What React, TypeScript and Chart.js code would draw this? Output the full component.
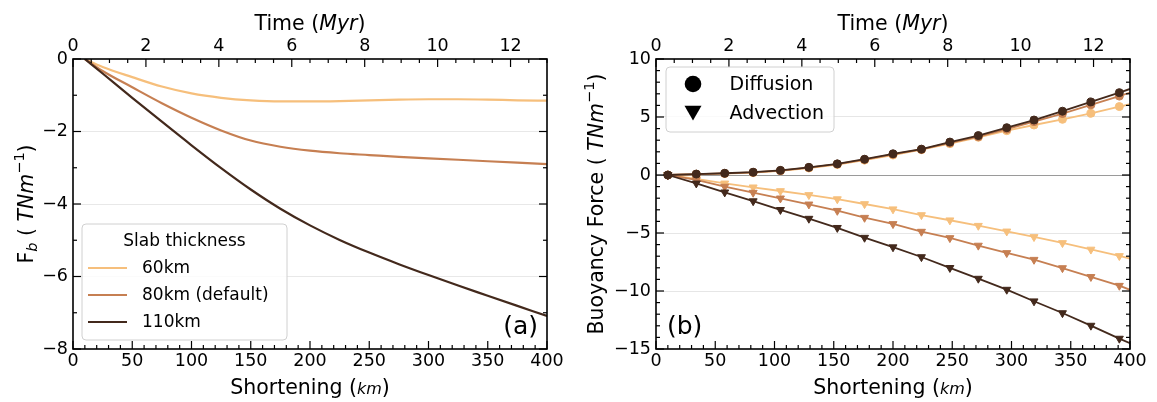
import React, { useEffect, useRef } from 'react';
import { Chart, registerables } from 'chart.js';
Chart.register(...registerables);

// ---------- data ----------
const slabLabels = ['60km', '80km (default)', '110km'];
const slabColors = ['#f6bf7c', '#c67f52', '#43291c'];

// panel (a): slab pull F_b vs shortening
const shorteningA = [10, 25, 50, 75, 100, 125, 150, 175, 200, 225, 250, 275, 300, 325, 350, 375, 400];
const fb60 = [0, -0.22, -0.5, -0.76, -0.95, -1.07, -1.14, -1.17, -1.17, -1.16, -1.14, -1.12, -1.11, -1.11, -1.12, -1.14, -1.15];
const fb80 = [0, -0.33, -0.78, -1.22, -1.62, -1.97, -2.25, -2.42, -2.53, -2.6, -2.65, -2.7, -2.74, -2.78, -2.82, -2.86, -2.9];
const fb110 = [0, -0.4, -1.07, -1.73, -2.38, -3.01, -3.6, -4.13, -4.59, -4.99, -5.34, -5.66, -5.96, -6.25, -6.53, -6.81, -7.09];

// panel (b): buoyancy force components vs shortening
const shorteningB = [10, 34, 58, 82, 105, 129, 153, 176, 200, 224, 248, 272, 296, 319, 343, 367, 391, 400];
const diff60 = [0, 0.06, 0.12, 0.2, 0.36, 0.6, 0.9, 1.28, 1.72, 2.18, 2.7, 3.25, 3.82, 4.31, 4.8, 5.32, 5.9, 6.1];
const diff80 = [0, 0.07, 0.14, 0.23, 0.37, 0.64, 0.94, 1.33, 1.78, 2.2, 2.76, 3.3, 3.95, 4.6, 5.3, 6.05, 6.8, 7.1];
const diff110 = [0, 0.08, 0.15, 0.24, 0.4, 0.66, 0.96, 1.36, 1.83, 2.23, 2.84, 3.4, 4.08, 4.74, 5.5, 6.3, 7.1, 7.42];
const adv60 = [0, -0.34, -0.72, -1.06, -1.38, -1.72, -2.08, -2.5, -2.95, -3.45, -3.9, -4.37, -4.86, -5.34, -5.86, -6.42, -6.98, -7.2];
const adv80 = [0, -0.43, -1.0, -1.52, -2.01, -2.53, -3.08, -3.68, -4.22, -4.88, -5.43, -6.08, -6.72, -7.3, -8.02, -8.78, -9.54, -9.9];
const adv110 = [0, -0.72, -1.49, -2.25, -3.0, -3.76, -4.55, -5.4, -6.22, -7.07, -8.0, -8.93, -9.88, -10.88, -11.9, -12.98, -14.1, -14.5];

const markerLabels = ['Diffusion', 'Advection'];

// axes
const shorteningRange = [0, 400];
const timeRange = [0, 13];
const fbRange = [-8, 0];
const buoyRange = [-15, 10];

// ---------- helpers ----------
const FONT = 'DejaVu Sans';
const tickFont = { family: FONT, size: 17.5 };
const minus = (v: any) => String(v).replace('-', '\u2212');

type Seg = { t: string; size: number; italic?: boolean; dy?: number };
function drawRich(ctx: CanvasRenderingContext2D, segs: Seg[], cx: number, cy: number, rot: number, base: number) {
  ctx.save();
  ctx.translate(cx, cy);
  if (rot) ctx.rotate(rot);
  const f = (s: Seg) => `${s.italic ? 'italic ' : ''}${s.size}px "${FONT}"`;
  let total = 0;
  const widths = segs.map((s) => {
    ctx.font = f(s);
    const w = ctx.measureText(s.t).width;
    total += w;
    return w;
  });
  let x = -total / 2;
  ctx.fillStyle = '#000';
  ctx.textBaseline = 'alphabetic';
  ctx.textAlign = 'left';
  segs.forEach((s, i) => {
    ctx.font = f(s);
    ctx.fillText(s.t, x, base + (s.dy || 0));
    x += widths[i];
  });
  ctx.restore();
}

function roundRect(ctx: CanvasRenderingContext2D, x: number, y: number, w: number, h: number, r: number) {
  ctx.beginPath();
  ctx.moveTo(x + r, y);
  ctx.lineTo(x + w - r, y);
  ctx.quadraticCurveTo(x + w, y, x + w, y + r);
  ctx.lineTo(x + w, y + h - r);
  ctx.quadraticCurveTo(x + w, y + h, x + w - r, y + h);
  ctx.lineTo(x + r, y + h);
  ctx.quadraticCurveTo(x, y + h, x, y + h - r);
  ctx.lineTo(x, y + r);
  ctx.quadraticCurveTo(x, y, x + r, y);
  ctx.closePath();
}

type FrameCfg = { xMinor: number; xMajor: number; tMinor: number; tMajor: number; yMinor: number; yMajor: number };
function makeFrame(cfg: FrameCfg) {
  return {
    id: 'frame',
    afterDatasetsDraw(chart: any) {
      const { ctx, chartArea: a, scales } = chart;
      ctx.save();
      ctx.strokeStyle = '#000';
      ctx.lineWidth = 1.2;
      const line = (x1: number, y1: number, x2: number, y2: number) => {
        ctx.beginPath();
        ctx.moveTo(x1, y1);
        ctx.lineTo(x2, y2);
        ctx.stroke();
      };
      const major = (v: number, s: number) => Math.abs(v / s - Math.round(v / s)) < 1e-6;
      const each = (sc: any, step: number, fn: (v: number) => void) => {
        const n = Math.round((sc.max - sc.min) / step);
        for (let i = 0; i <= n; i++) fn(sc.min + i * step);
      };
      each(scales.x, cfg.xMinor, (v) => {
        const p = scales.x.getPixelForValue(v);
        const L = major(v, cfg.xMajor) ? 8 : 4;
        line(p, a.bottom, p, a.bottom - L);
      });
      each(scales.x2, cfg.tMinor, (v) => {
        const p = scales.x2.getPixelForValue(v);
        if (p > a.right + 0.5) return;
        const L = major(v, cfg.tMajor) ? 8 : 4;
        line(p, a.top, p, a.top + L);
      });
      each(scales.y, cfg.yMinor, (v) => {
        const p = scales.y.getPixelForValue(v);
        const L = major(v, cfg.yMajor) ? 8 : 4;
        line(a.left, p, a.left + L, p);
        line(a.right, p, a.right - L, p);
      });
      ctx.lineWidth = 1.6;
      ctx.strokeRect(a.left, a.top, a.right - a.left, a.bottom - a.top);
      ctx.restore();
    },
  };
}

function makeOverlay(draw: (ctx: CanvasRenderingContext2D, chart: any) => void) {
  return {
    id: 'overlay',
    afterDraw(chart: any) {
      const ctx = chart.ctx;
      ctx.save();
      draw(ctx, chart);
      ctx.restore();
    },
  };
}

function baseScales(yRange: number[], yStep: number, yWidth: number, gridColor: (v: number) => string) {
  return {
    x: {
      type: 'linear',
      position: 'bottom',
      min: shorteningRange[0],
      max: shorteningRange[1],
      ticks: { stepSize: 50, font: tickFont, color: '#000', padding: 2, autoSkip: false, maxRotation: 0 },
      grid: { display: false, drawTicks: false },
      border: { display: false },
      afterFit: (s: any) => { s.height = 53; },
    },
    x2: {
      type: 'linear',
      position: 'top',
      min: timeRange[0],
      max: timeRange[1],
      ticks: { stepSize: 2, includeBounds: false, font: tickFont, color: '#000', padding: 2, autoSkip: false, maxRotation: 0 },
      grid: { display: false, drawTicks: false },
      border: { display: false },
      afterFit: (s: any) => { s.height = 59; },
    },
    y: {
      type: 'linear',
      min: yRange[0],
      max: yRange[1],
      ticks: { stepSize: yStep, font: tickFont, color: '#000', padding: 5, callback: minus },
      grid: {
        drawTicks: false,
        lineWidth: 1,
        color: (c: any) => gridColor(c.tick ? c.tick.value : NaN),
      },
      border: { display: false },
      afterFit: (s: any) => { s.width = yWidth; },
    },
  };
}

const pts = (xs: number[], ys: number[]) => xs.map((x, i) => ({ x, y: ys[i] }));

export default function App() {
  const refA = useRef<HTMLCanvasElement>(null);
  const refB = useRef<HTMLCanvasElement>(null);

  useEffect(() => {
    // ---------- panel (a) ----------
    const seriesA = [fb60, fb80, fb110];
    const chartA = new Chart(refA.current as HTMLCanvasElement, {
      type: 'line',
      data: {
        datasets: seriesA.map((ys, i) => ({
          label: slabLabels[i],
          data: pts(shorteningA, ys),
          borderColor: slabColors[i],
          borderWidth: 2.2,
          pointRadius: 0,
          cubicInterpolationMode: 'monotone',
          order: 3 - i,
          xAxisID: 'x',
          yAxisID: 'y',
        })),
      },
      options: {
        animation: false,
        responsive: false,
        devicePixelRatio: 1,
        layout: { padding: { left: 0, right: 33, top: 0, bottom: 0 } },
        plugins: { legend: { display: false }, tooltip: { enabled: false } },
        scales: baseScales(fbRange, 2, 73, (v) => (v === 0 || v === -8 ? 'rgba(0,0,0,0)' : '#e8e8e8')) as any,
      },
      plugins: [
        makeFrame({ xMinor: 10, xMajor: 50, tMinor: 0.5, tMajor: 2, yMinor: 1, yMajor: 2 }),
        makeOverlay((ctx, chart) => {
          const a = chart.chartArea;
          const cx = (a.left + a.right) / 2;
          drawRich(ctx, [{ t: 'Time (', size: 20.5 }, { t: 'Myr', size: 20.5, italic: true }, { t: ')', size: 20.5 }], cx, 22, 0, 7.5);
          drawRich(ctx, [{ t: 'Shortening (', size: 20.5 }, { t: 'km', size: 16, italic: true }, { t: ')', size: 20.5 }], cx, 386, 0, 7.5);
          drawRich(
            ctx,
            [
              { t: 'F', size: 20.5 },
              { t: 'b', size: 14.5, italic: true, dy: 4 },
              { t: ' ( ', size: 20.5 },
              { t: 'TNm', size: 20.5, italic: true },
              { t: '\u22121', size: 14.5, dy: -9 },
              { t: ')', size: 20.5 },
            ],
            25,
            (a.top + a.bottom) / 2,
            -Math.PI / 2,
            7.5
          );
          // legend
          roundRect(ctx, 82, 224, 205, 116, 4);
          ctx.fillStyle = 'rgba(255,255,255,0.8)';
          ctx.fill();
          ctx.strokeStyle = '#d0d0d0';
          ctx.lineWidth = 1;
          ctx.stroke();
          ctx.fillStyle = '#000';
          ctx.font = `17px "${FONT}"`;
          ctx.textBaseline = 'middle';
          ctx.textAlign = 'center';
          ctx.fillText('Slab thickness', 184.5, 242);
          ctx.textAlign = 'left';
          slabLabels.forEach((lab, i) => {
            const y = 268 + i * 27;
            ctx.strokeStyle = slabColors[i];
            ctx.lineWidth = 2.2;
            ctx.beginPath();
            ctx.moveTo(88, y);
            ctx.lineTo(127, y);
            ctx.stroke();
            ctx.fillStyle = '#000';
            ctx.fillText(lab, 142, y + 1);
          });
          ctx.font = `25px "${FONT}"`;
          ctx.textAlign = 'right';
          ctx.fillText('(a)', a.right - 9, 327);
        }),
      ],
    } as any);

    // ---------- panel (b) ----------
    const diffSeries = [diff60, diff80, diff110];
    const advSeries = [adv60, adv80, adv110];
    const lastIdx = shorteningB.length - 1;
    const mk = (ys: number[], i: number, style: string) => ({
      data: pts(shorteningB, ys),
      borderColor: slabColors[i],
      backgroundColor: slabColors[i],
      borderWidth: 1.8,
      pointStyle: style,
      pointRotation: style === 'triangle' ? 180 : 0,
      pointRadius: (c: any) => (c.dataIndex === lastIdx ? 0 : style === 'triangle' ? 4.6 : 4),
      pointBackgroundColor: slabColors[i],
      pointBorderColor: slabColors[i],
      pointBorderWidth: 1,
      tension: 0,
      order: 3 - i,
      xAxisID: 'x',
      yAxisID: 'y',
    });
    const chartB = new Chart(refB.current as HTMLCanvasElement, {
      type: 'line',
      data: {
        datasets: [
          ...advSeries.map((ys, i) => mk(ys, i, 'triangle')),
          ...diffSeries.map((ys, i) => mk(ys, i, 'circle')),
        ],
      },
      options: {
        animation: false,
        responsive: false,
        devicePixelRatio: 1,
        layout: { padding: { left: 0, right: 27, top: 0, bottom: 0 } },
        plugins: { legend: { display: false }, tooltip: { enabled: false } },
        scales: baseScales(buoyRange, 5, 76, (v) =>
          v === 0 ? '#9a9a9a' : v === 10 || v === -15 ? 'rgba(0,0,0,0)' : '#e6e6e6'
        ) as any,
      },
      plugins: [
        makeFrame({ xMinor: 10, xMajor: 50, tMinor: 0.5, tMajor: 2, yMinor: 1, yMajor: 5 }),
        makeOverlay((ctx, chart) => {
          const a = chart.chartArea;
          const cx = (a.left + a.right) / 2;
          drawRich(ctx, [{ t: 'Time (', size: 20.5 }, { t: 'Myr', size: 20.5, italic: true }, { t: ')', size: 20.5 }], cx, 22, 0, 7.5);
          drawRich(ctx, [{ t: 'Shortening (', size: 20.5 }, { t: 'km', size: 16, italic: true }, { t: ')', size: 20.5 }], cx, 386, 0, 7.5);
          drawRich(
            ctx,
            [
              { t: 'Buoyancy Force ( ', size: 20.5 },
              { t: 'TNm', size: 20.5, italic: true },
              { t: '\u22121', size: 14.5, dy: -9 },
              { t: ')', size: 20.5 },
            ],
            15,
            (a.top + a.bottom) / 2,
            -Math.PI / 2,
            7.5
          );
          // legend
          roundRect(ctx, 86, 67, 168, 65, 4);
          ctx.fillStyle = 'rgba(255,255,255,0.8)';
          ctx.fill();
          ctx.strokeStyle = '#d0d0d0';
          ctx.lineWidth = 1;
          ctx.stroke();
          ctx.fillStyle = '#000';
          ctx.beginPath();
          ctx.arc(113, 84, 8.3, 0, Math.PI * 2);
          ctx.fill();
          ctx.beginPath();
          ctx.moveTo(104.5, 105.8);
          ctx.lineTo(121.5, 105.8);
          ctx.lineTo(113, 120.5);
          ctx.closePath();
          ctx.fill();
          ctx.font = `19px "${FONT}"`;
          ctx.textBaseline = 'middle';
          ctx.textAlign = 'left';
          ctx.fillText(markerLabels[0], 149.5, 85);
          ctx.fillText(markerLabels[1], 149.5, 114);
          ctx.font = `25px "${FONT}"`;
          ctx.fillText('(b)', a.left + 11, 327);
        }),
      ],
    } as any);

    return () => {
      chartA.destroy();
      chartB.destroy();
    };
  }, []);

  return (
    <div style={{ position: 'absolute', left: 0, top: 0, width: 1157, height: 402, background: '#fff' }}>
      <canvas
        ref={refA}
        width={580}
        height={402}
        style={{ position: 'absolute', left: 0, top: 0, width: 580, height: 402 }}
      />
      <canvas
        ref={refB}
        width={577}
        height={402}
        style={{ position: 'absolute', left: 580, top: 0, width: 577, height: 402 }}
      />
    </div>
  );
}
